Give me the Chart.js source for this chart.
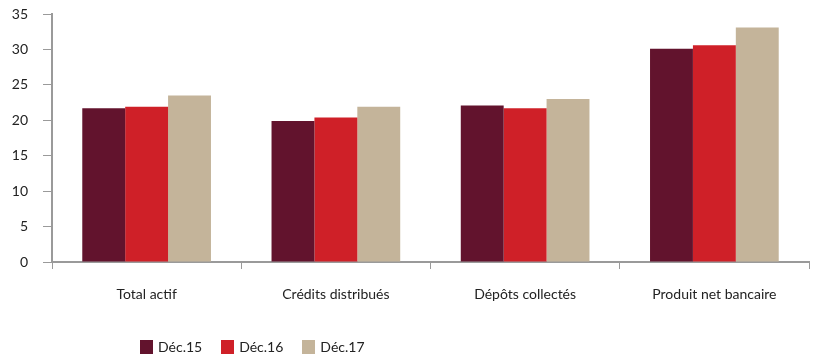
<!DOCTYPE html>
<html>
<head>
<meta charset="utf-8">
<script src="https://cdn.jsdelivr.net/npm/chart.js@4.4.0/dist/chart.umd.min.js"></script>
<style>
  body { margin: 0; background: #fff; }
  #wrap { position: relative; width: 815px; height: 355px; }
  #legend { position: absolute; left: 140px; top: 338px; font: 14px Lato, sans-serif; color: #222; display: flex; }
  #legend span.item { display: flex; align-items: center; margin-right: 19px; }
  #legend i { display: inline-block; width: 13px; height: 14px; margin-right: 5px; }
</style>
</head>
<body>
<div id="wrap">
  <canvas id="chart" width="815" height="355"></canvas>
  <div id="legend"></div>
</div>
<script>
// Données
const categories = ['Total actif', 'Crédits distribués', 'Dépôts collectés', 'Produit net bancaire'];
const seriesNames = ['Déc.15', 'Déc.16', 'Déc.17'];
const dec15 = [21.7, 19.9, 22.1, 30.1];
const dec16 = [21.9, 20.4, 21.7, 30.6];
const dec17 = [23.5, 21.9, 23.0, 33.1];
const colors = ['#62132d', '#cf2028', '#c4b49a'];

Chart.defaults.font.family = 'Lato, sans-serif';
Chart.defaults.font.size = 14;
Chart.defaults.color = '#222';

const seriesValues = [dec15, dec16, dec17];
const datasets = seriesNames.map((name, i) => ({
    label: name,
    data: seriesValues[i],
    backgroundColor: colors[i],
    borderWidth: 0,
    categoryPercentage: 0.68,
    barPercentage: 1.0
}));

new Chart(document.getElementById('chart'), {
    type: 'bar',
    data: { labels: categories, datasets: datasets },
    options: {
        responsive: false,
        animation: false,
        layout: { padding: { top: 14, right: 6, left: 0, bottom: 0 } },
        plugins: { legend: { display: false }, tooltip: { enabled: false } },
        scales: {
            x: {
                grid: { display: true, drawOnChartArea: false, color: '#9a9a9a', tickLength: 7, offset: true },
                border: { color: '#9a9a9a', width: 2 },
                ticks: { padding: 17, color: '#222' },
                afterFit: (s) => { s.height = 93; }
            },
            y: {
                min: 0, max: 35,
                ticks: { stepSize: 5, padding: 15, color: '#222' },
                grid: { display: true, drawOnChartArea: false, color: '#9a9a9a', tickLength: 9 },
                border: { color: '#9a9a9a', width: 2 },
                afterFit: (s) => { s.width = 52; s.paddingTop = 0; s.paddingBottom = 0; }
            }
        }
    }
});

// Légende
const legend = document.getElementById('legend');
seriesNames.forEach((name, i) => {
    const item = document.createElement('span');
    item.className = 'item';
    item.innerHTML = `<i style="background:${colors[i]}"></i>${name}`;
    legend.appendChild(item);
});
</script>
</body>
</html>
